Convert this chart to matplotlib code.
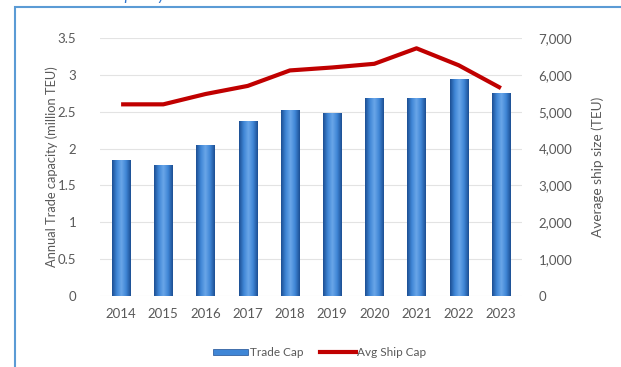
import numpy as np
import matplotlib.pyplot as plt
from matplotlib.patches import Rectangle
from matplotlib.lines import Line2D
from matplotlib.colors import LinearSegmentedColormap

plt.rcParams['font.family'] = ['Lato', 'DejaVu Sans']

years = ["2014", "2015", "2016", "2017", "2018", "2019", "2020", "2021", "2022", "2023"]
trade_cap = [1.84, 1.78, 2.05, 2.37, 2.52, 2.48, 2.69, 2.69, 2.94, 2.76]   # million TEU
avg_ship = [5200, 5200, 5480, 5700, 6120, 6200, 6300, 6720, 6260, 5640]    # TEU

grey = "#595959"
fig = plt.figure(figsize=(6.21, 3.67), dpi=100)

# blue frame and cut-off title
fig.add_artist(Rectangle((15 / 621, -0.1), 1.2, 1 - 7 / 367 + 0.1, transform=fig.transFigure,
                         fill=False, edgecolor="#5B9BD5", linewidth=1.5))
fig.text(20 / 621, 1.0 + 0.012, "Annual trade capacity: Mediterranean-North America",
         color="#2E75CF", fontsize=11.5, style="italic", va="center", ha="left")

ax = fig.add_axes([100 / 621, 1 - 296 / 367, 422 / 621, 258 / 367])
x = np.arange(len(years))

bars = ax.bar(x, trade_cap, width=0.43, color="#2E6DB8", zorder=2)
cmap = LinearSegmentedColormap.from_list("cyl", ["#1D4F93", "#3F86D6", "#6AA6E8", "#3F86D6", "#1D4F93"])
grad = np.linspace(0, 1, 64).reshape(1, -1)
for b in bars:
    bx, bw, bh = b.get_x(), b.get_width(), b.get_height()
    im = ax.imshow(grad, cmap=cmap, aspect="auto", extent=[bx, bx + bw, 0, bh], zorder=3)
    im.set_clip_path(b)

ax.set_xlim(-0.5, len(years) - 0.5)
ax.set_ylim(0, 3.5)
ax.set_yticks(np.arange(0, 3.51, 0.5))
ax.set_yticklabels(["0", "0.5", "1", "1.5", "2", "2.5", "3", "3.5"])
ax.set_xticks(x)
ax.set_xticklabels(years)
ax.grid(axis="y", color="#E3E3E3", linewidth=0.8, zorder=0)
ax.set_axisbelow(True)
for s in ax.spines.values():
    s.set_visible(False)
ax.tick_params(axis="both", length=0, colors=grey, labelsize=9.5)
ax.tick_params(axis="y", pad=17)
ax.tick_params(axis="x", pad=9)
ax.set_ylabel("Annual Trade capacity (million TEU)", color=grey, fontsize=9.3, labelpad=0)

ax2 = ax.twinx()
ax2.plot(x, avg_ship, color="#C00000", linewidth=3, solid_capstyle="butt", zorder=4)
ax2.set_ylim(0, 7000)
ax2.set_yticks(np.arange(0, 7001, 1000))
ax2.set_yticklabels([f"{v:,}" for v in range(0, 7001, 1000)])
for s in ax2.spines.values():
    s.set_visible(False)
ax2.tick_params(axis="y", length=0, colors=grey, labelsize=9.5, pad=12)
ax2.set_ylabel("Average ship size (TEU)", color=grey, fontsize=9.8, labelpad=14)
ax2.set_xlim(-0.5, len(years) - 0.5)

handles = [Rectangle((0, 0), 1, 1, facecolor="#3F86D6", edgecolor="#1D4F93", linewidth=0.5),
           Line2D([0], [0], color="#C00000", linewidth=3)]
fig.legend(handles, ["Trade Cap", "Avg Ship Cap"], loc="center", bbox_to_anchor=(0.515, 0.04),
           ncol=2, frameon=False, fontsize=8.5, labelcolor=grey, handlelength=3.0,
           handleheight=0.4, handletextpad=0.15, columnspacing=1.4)

fig.savefig("out.png", dpi=100)
